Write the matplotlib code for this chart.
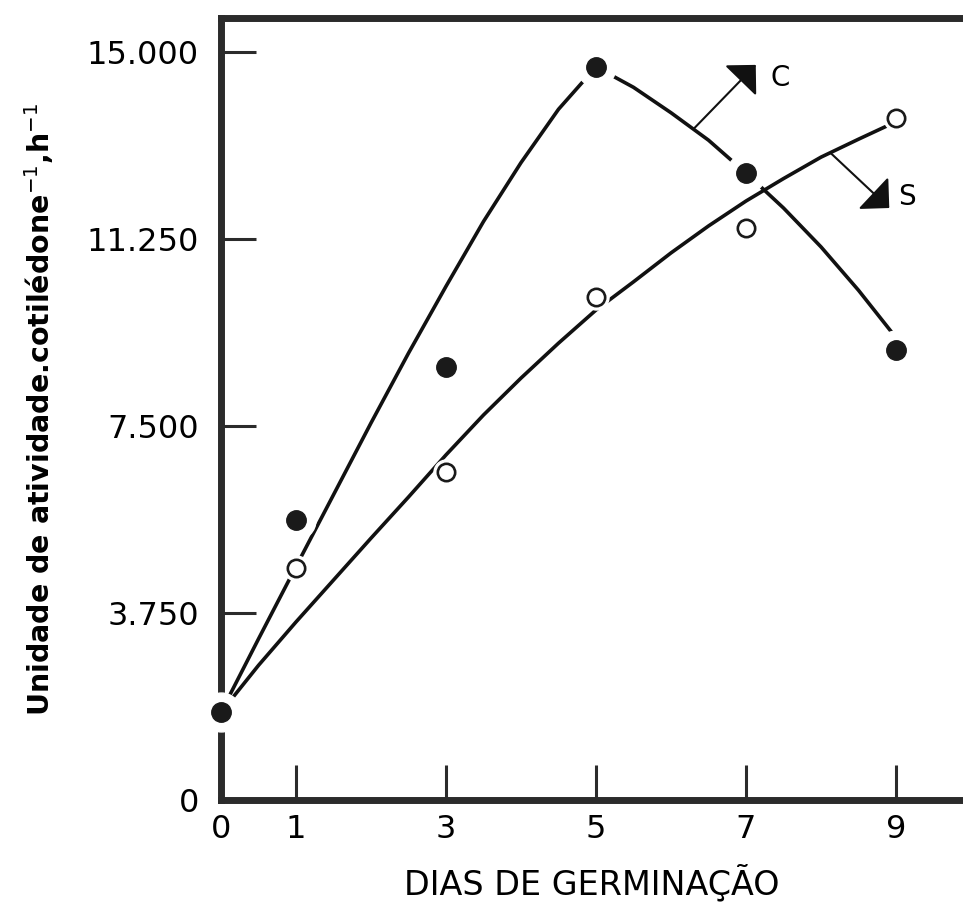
import numpy as np
import matplotlib.pyplot as plt

plt.rcParams['font.family'] = ['DejaVu Sans']

# measured activity (dias de germinacao)
dias = [0, 1, 3, 5, 7, 9]
ativ_c = [1760, 5610, 8680, 14700, 12570, 9020]
dias_s = [1, 3, 5, 7, 9]
ativ_s = [4650, 6580, 10080, 11470, 13670]

# fitted curves, read every half day
dias_fit = [0, 0.5, 1, 1.5, 2, 2.5, 3, 3.5, 4, 4.5, 5, 5.5, 6, 6.5, 7, 7.5, 8, 8.5, 9]
fit_c = [1760, 3230, 4680, 6120, 7560, 8960, 10300, 11600, 12780, 13850, 14700,
         14290, 13780, 13230, 12570, 11870, 11090, 10220, 9270]
fit_s = [1760, 2700, 3570, 4410, 5250, 6075, 6920, 7720, 8460, 9160, 9825,
         10390, 10970, 11510, 12010, 12460, 12890, 13250, 13600]

yticks = [0, 3750, 7500, 11250, 15000]
ytick_labels = ['0', '3.750', '7.500', '11.250', '15.000']
xticks = [0, 1, 3, 5, 7, 9]

fig = plt.figure(figsize=(9.63, 9.05), dpi=100)
ax = fig.add_axes([221 / 963, 105 / 905, 1 - 221 / 963, 782 / 905])
ax.set_xlim(0, 9.893)
ax.set_ylim(0, 15680)

ax.plot(dias_fit, fit_c, color='#111111', lw=2.6, zorder=2, solid_capstyle='butt')
ax.plot(dias_fit, fit_s, color='#111111', lw=2.6, zorder=2, solid_capstyle='butt')

# white halos break the curves around each point
ax.plot(dias, ativ_c, 'o', ms=28, color='white', zorder=3, clip_on=False)
ax.plot(dias_s, ativ_s, 'o', ms=18, color='white', zorder=3, clip_on=False)
ax.plot(dias, ativ_c, 'o', ms=14, color='#1a1a1a', zorder=4, clip_on=False)
ax.plot(dias_s, ativ_s, 'o', ms=12.5, mfc='white', mec='#1a1a1a', mew=1.9,
        zorder=4, clip_on=False)

arrow = dict(arrowstyle='-|>,head_length=0.7,head_width=0.7', lw=1.5,
             color='#111111', mutation_scale=20, shrinkA=0, shrinkB=0)
ax.annotate('', xy=(7.13, 14740), xytext=(6.31, 13470), arrowprops=arrow)
ax.annotate('', xy=(8.91, 11870), xytext=(8.13, 12970), arrowprops=arrow)
ax.text(7.33, 14480, 'C', fontsize=20, va='center', ha='left')
ax.text(9.03, 12100, 'S', fontsize=20, va='center', ha='left')

for side in ['left', 'bottom', 'top']:
    ax.spines[side].set_linewidth(5)
    ax.spines[side].set_color('#2b2b2b')
ax.spines['right'].set_visible(False)

ax.set_yticks(yticks)
ax.set_yticklabels(ytick_labels)
ax.set_xticks(xticks)
ax.set_xticklabels([str(d) for d in xticks])
ax.tick_params(direction='in', length=25, width=2.2, color='#2b2b2b',
               labelsize=23, pad=10)
ax.tick_params(axis='y', pad=16)

ax.set_xlabel('DIAS DE GERMINAÇÃO', fontsize=24, labelpad=14)
ax.set_ylabel('Unidade de atividade.cotilédone$^{-1}$,h$^{-1}$', fontsize=20.5,
              fontweight='bold', labelpad=22)

fig.savefig('out.png', dpi=100, facecolor='white')
